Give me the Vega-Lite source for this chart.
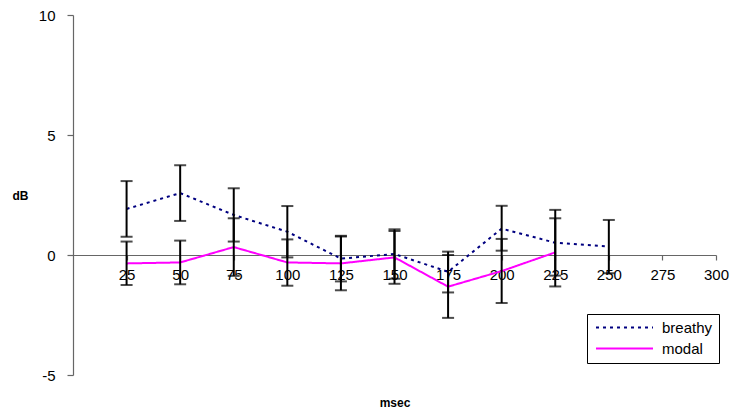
{
  "$schema": "https://vega.github.io/schema/vega-lite/v6.json",
  "width": 643,
  "height": 360,
  "autosize": "none",
  "padding": {"left": 73, "top": 15, "right": 17, "bottom": 43},
  "background": "white",
  "config": {
    "view": {"stroke": null},
    "font": "Liberation Sans",
    "axis": {"grid": false, "domainColor": "#666666", "tickColor": "#666666", "labelFont": "Liberation Sans", "labelFontSize": 15, "labelColor": "#000000", "titleFont": "Liberation Sans", "titleFontSize": 12, "titleFontWeight": "bold", "titleColor": "#000000", "domainWidth": 1.2, "tickWidth": 1.2}
  },
  "data": {
    "values": [
      {"msec": 25, "series": "breathy", "value": 1.92, "lo": 0.76, "hi": 3.08},
      {"msec": 50, "series": "breathy", "value": 2.58, "lo": 1.42, "hi": 3.74},
      {"msec": 75, "series": "breathy", "value": 1.67, "lo": 0.56, "hi": 2.78},
      {"msec": 100, "series": "breathy", "value": 0.97, "lo": -0.1, "hi": 2.04},
      {"msec": 125, "series": "breathy", "value": -0.15, "lo": -1.1, "hi": 0.8},
      {"msec": 150, "series": "breathy", "value": 0.04, "lo": -0.99, "hi": 1.07},
      {"msec": 175, "series": "breathy", "value": -0.7, "lo": -1.56, "hi": 0.14},
      {"msec": 200, "series": "breathy", "value": 1.1, "lo": 0.18, "hi": 2.05},
      {"msec": 225, "series": "breathy", "value": 0.51, "lo": -0.86, "hi": 1.88},
      {"msec": 250, "series": "breathy", "value": 0.35, "lo": -0.76, "hi": 1.46},
      {"msec": 25, "series": "modal", "value": -0.35, "lo": -1.25, "hi": 0.56},
      {"msec": 50, "series": "modal", "value": -0.31, "lo": -1.22, "hi": 0.6},
      {"msec": 75, "series": "modal", "value": 0.33, "lo": -0.87, "hi": 1.53},
      {"msec": 100, "series": "modal", "value": -0.31, "lo": -1.28, "hi": 0.65},
      {"msec": 125, "series": "modal", "value": -0.35, "lo": -1.47, "hi": 0.77},
      {"msec": 150, "series": "modal", "value": -0.1, "lo": -1.2, "hi": 1.0},
      {"msec": 175, "series": "modal", "value": -1.32, "lo": -2.62, "hi": 0.0},
      {"msec": 200, "series": "modal", "value": -0.67, "lo": -2.0, "hi": 0.67},
      {"msec": 225, "series": "modal", "value": 0.11, "lo": -1.31, "hi": 1.53}
    ]
  },
  "layer": [
    {
      "mark": {"type": "line", "strokeWidth": 2},
      "encoding": {
        "x": {"field": "msec", "type": "quantitative", "scale": {"domain": [0, 300], "nice": false, "zero": false},
          "axis": {"values": [25, 50, 75, 100, 125, 150, 175, 200, 225, 250, 275, 300], "offset": -120, "tickSize": 5, "labelPadding": 7, "title": "msec", "titleY": 147, "titleBaseline": "middle", "labelFlush": false}},
        "y": {"field": "value", "type": "quantitative", "scale": {"domain": [-5, 10], "nice": false, "zero": false},
          "axis": {"values": [-5, 0, 5, 10], "labelExpr": "'' + datum.value", "tickSize": 6, "labelPadding": 12, "title": "dB", "titleAngle": 0, "titleX": -53, "titleY": 180, "titleAlign": "center", "titleBaseline": "middle", "labelFlush": false}},
        "color": {"field": "series", "type": "nominal", "scale": {"domain": ["breathy", "modal"], "range": ["#000080", "#FF00FF"]},
          "legend": {"title": null, "orient": "none", "legendX": 514, "legendY": 299, "direction": "vertical", "symbolType": "M-5.7,0L5.7,0", "symbolSize": 100, "symbolOffset": 24, "symbolStrokeWidth": 2, "labelFontSize": 15, "labelFont": "Liberation Sans", "labelColor": "#000000", "labelOffset": 30, "strokeColor": "#000000", "fillColor": "white", "padding": 6, "rowPadding": 5}},
        "strokeDash": {"field": "series", "type": "nominal", "scale": {"domain": ["breathy", "modal"], "range": [[3, 4], [1, 0]]}, "legend": null},
        "order": {"field": "msec", "type": "quantitative"}
      }
    },
    {
      "mark": {"type": "rule", "strokeWidth": 2, "color": "#000000"},
      "encoding": {
        "x": {"field": "msec", "type": "quantitative"},
        "y": {"field": "lo", "type": "quantitative"},
        "y2": {"field": "hi"}
      }
    },
    {
      "mark": {"type": "tick", "orient": "horizontal", "size": 12, "thickness": 2, "color": "#000000"},
      "encoding": {
        "x": {"field": "msec", "type": "quantitative"},
        "y": {"field": "lo", "type": "quantitative"}
      }
    },
    {
      "mark": {"type": "tick", "orient": "horizontal", "size": 12, "thickness": 2, "color": "#000000"},
      "encoding": {
        "x": {"field": "msec", "type": "quantitative"},
        "y": {"field": "hi", "type": "quantitative"}
      }
    }
  ]
}
